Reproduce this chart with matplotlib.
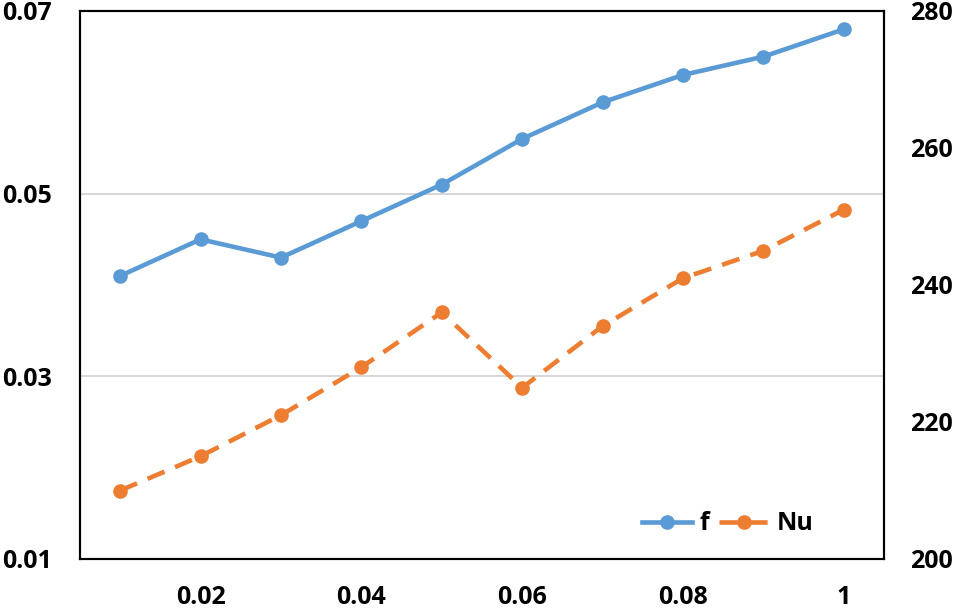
import matplotlib
matplotlib.use("Agg")
import matplotlib.pyplot as plt

plt.rcParams['font.family'] = ['Open Sans', 'DejaVu Sans']
plt.rcParams['font.weight'] = 'bold'

categories = ['0.01', '0.02', '0.03', '0.04', '0.05', '0.06', '0.07', '0.08', '0.09', '1']
f_vals = [0.041, 0.045, 0.043, 0.047, 0.051, 0.056, 0.060, 0.063, 0.065, 0.068]
nu_vals = [210, 215, 221, 228, 236, 225, 234, 241, 245, 251]

blue = '#5B9BD5'
orange = '#ED7D31'

fig = plt.figure(figsize=(9.55, 6.12), dpi=100)
ax = fig.add_axes([80/955, 1-559/612, 804/955, 548/612])
ax2 = ax.twinx()

x = list(range(len(categories)))
l1, = ax.plot(x, f_vals, color=blue, lw=3.3, marker='o', ms=9.5, label='f')
l2, = ax2.plot(x, nu_vals, color=orange, lw=3.3, ls=(0, (4, 2.5)), marker='o', ms=9.5, label='Nu')

ax.set_xlim(-0.5, len(categories) - 0.5)
ax.set_ylim(0.01, 0.07)
ax.set_yticks([0.01, 0.03, 0.05, 0.07])
ax.set_yticklabels(['0.01', '0.03', '0.05', '0.07'])
ax2.set_ylim(200, 280)
ax2.set_yticks([200, 220, 240, 260, 280])

ax.set_xticks(x[1::2])
ax.set_xticklabels(categories[1::2])

for gy in [0.03, 0.05]:
    ax.axhline(gy, color='#D0D0D0', lw=1.2, zorder=0)

for a in (ax, ax2):
    for s in a.spines.values():
        s.set_color('black')
        s.set_linewidth(1.5)
    a.tick_params(length=0, labelsize=18)
ax.tick_params(axis='y', pad=20)
ax2.tick_params(axis='y', pad=19)
ax.tick_params(axis='x', pad=19)

ax.legend(handles=[l1, l2], loc='lower right', bbox_to_anchor=(0.94, 0.0),
          ncol=2, frameon=False, fontsize=18, handlelength=2.0,
          columnspacing=0.4, handletextpad=0.3)

fig.savefig('out.png', dpi=100)
